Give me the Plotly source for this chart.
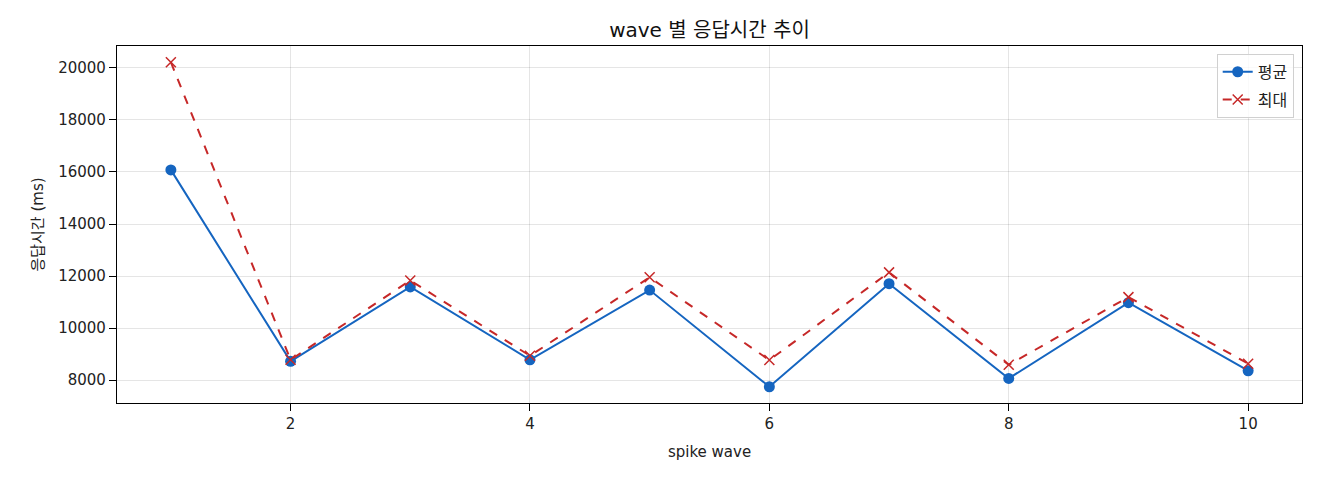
import plotly.graph_objects as go

waves = [1, 2, 3, 4, 5, 6, 7, 8, 9, 10]
avg_ms = [16080, 8720, 11580, 8780, 11460, 7745, 11705, 8065, 10975, 8360]
max_ms = [20220, 8780, 11830, 8935, 11950, 8770, 12140, 8590, 11190, 8630]

FONT = "DejaVu Sans, Noto Sans CJK KR, sans-serif"

fig = go.Figure()
fig.add_trace(go.Scatter(
    x=waves, y=avg_ms, name="평균", mode="lines+markers", legendgroup="a",
    line=dict(color="#1565C0", width=2),
    marker=dict(symbol="circle", size=11, color="#1565C0"),
))
fig.add_trace(go.Scatter(
    x=waves, y=max_ms, name="최대", mode="lines+markers", legendgroup="b",
    line=dict(color="#C62828", width=2, dash="dash"),
    marker=dict(symbol="x-thin", size=10, line=dict(color="#C62828", width=1.5)),
))

# page body adds an 8px offset, so the figure is a bit smaller than the window
fig.update_layout(
    width=1312, height=472,
    margin=dict(l=109, r=18, t=38, b=77),
    paper_bgcolor="white", plot_bgcolor="white",
    font=dict(family=FONT, size=15, color="#222222"),
    title=dict(text="wave 별 응답시간 추이", x=0.5, xref="paper", xanchor="center",
               y=0.953, yanchor="middle", font=dict(size=20, color="#111111")),
    legend=dict(x=0.993, y=0.978, xanchor="right", yanchor="top",
                bgcolor="rgba(255,255,255,0.8)", bordercolor="#d0d0d0",
                borderwidth=1, font=dict(size=16), traceorder="grouped",
                tracegroupgap=4),
    showlegend=True,
)

axis_common = dict(
    showline=True, linecolor="black", linewidth=1.2, mirror=True,
    ticks="outside", ticklen=7, tickcolor="black",
    showgrid=True, gridcolor="rgba(0,0,0,0.1)", gridwidth=1,
    zeroline=False, tickfont=dict(size=15),
)
fig.update_xaxes(range=[0.55, 10.45], tickvals=[2, 4, 6, 8, 10],
                 title=dict(text="spike wave", font=dict(size=15), standoff=14),
                 **axis_common)
fig.update_yaxes(range=[7120, 20842], tickvals=[8000, 10000, 12000, 14000, 16000, 18000, 20000],
                 tickformat="d",
                 title=dict(text="응답시간 (ms)", font=dict(size=15), standoff=10),
                 **axis_common)

fig.write_html("out.html")
